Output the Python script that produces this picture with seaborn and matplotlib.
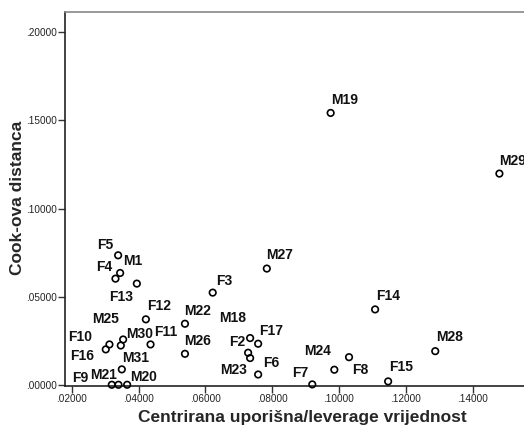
import numpy as np
import pandas as pd
import matplotlib
matplotlib.use('Agg')
import matplotlib.pyplot as plt
from matplotlib.ticker import FuncFormatter, FixedLocator
import seaborn as sns

# case labels, leverage (x) and Cook's distance (y)
labels = ['F5', 'M1', 'F4', 'F13', 'F12', 'M30', 'M25', 'F10', 'F16', 'F11',
          'M31', 'F9', 'M21', 'M20', 'M27', 'F3', 'M22', 'M26', 'F2', 'F17',
          'M18', 'M23', 'F6', 'F14', 'M28', 'M24', 'F8', 'F7', 'F15', 'M19', 'M29']
leverage = [0.0339, 0.0345, 0.0331, 0.0395, 0.0422, 0.0354, 0.0347, 0.0313, 0.0302, 0.0436,
            0.0350, 0.0320, 0.0340, 0.0366, 0.0784, 0.0622, 0.0539, 0.0539, 0.0734, 0.0758,
            0.0728, 0.0734, 0.0758, 0.1108, 0.1288, 0.0986, 0.1030, 0.0920, 0.1147, 0.0975, 0.1480]
cooks = [0.0736, 0.0636, 0.0604, 0.0576, 0.0374, 0.0260, 0.0226, 0.0232, 0.0204, 0.0232,
         0.0091, 0.0004, 0.0004, 0.0004, 0.0661, 0.0525, 0.0349, 0.0179, 0.0268, 0.0236,
         0.0185, 0.0155, 0.0062, 0.0430, 0.0194, 0.0089, 0.0160, 0.0006, 0.0023, 0.1541, 0.1198]

y_ticks = [0.0, 0.05, 0.10, 0.15, 0.20]
x_ticks = [0.02, 0.04, 0.06, 0.08, 0.10, 0.12, 0.14]

# label placement (pixel offsets of label centre from the point)
label_offsets = {
    'F5': (-13, 10), 'M1': (13, 12), 'F4': (-11, 12), 'F13': (-16, -13),
    'F12': (13, 13), 'M30': (16, 5), 'M25': (-15, 26), 'F10': (-29, 7),
    'F16': (-24, -7), 'F11': (15, 12), 'M31': (14, 11), 'F9': (-32, 7),
    'M21': (-15, 10), 'M20': (16, 8), 'M27': (13, 14), 'F3': (12, 12),
    'M22': (13, 13), 'M26': (13, 13), 'F2': (-13, -4), 'F17': (13, 13),
    'M18': (-15, 35), 'M23': (-17, -12), 'F6': (13, 12), 'F14': (13, 13),
    'M28': (14, 14), 'M24': (-17, 19), 'F8': (11, -13), 'F7': (-12, 11),
    'F15': (13, 14), 'M19': (14, 13), 'M29': (13, 13),
}

df = pd.DataFrame({'case': labels, 'leverage': leverage, 'cooks': cooks})

sns.set_style('white')
plt.rcParams['font.family'] = ['Liberation Sans', 'DejaVu Sans']

fig = plt.figure(figsize=(5.24, 4.30), dpi=100)
W, H = 524, 430
ax = fig.add_axes([65 / W, (H - 386) / H, 474.5 / W, (386 - 12.3) / H])

sns.scatterplot(data=df, x='leverage', y='cooks', ax=ax, marker='o', s=22,
                facecolor='none', edgecolor='black', linewidth=1.2, legend=False,
                clip_on=False, zorder=3)

for name, x, y in zip(labels, leverage, cooks):
    dx, dy = label_offsets[name]
    ax.annotate(name, (x, y), xytext=(dx, dy), textcoords='offset pixels',
                ha='center', va='center', fontsize=10, fontweight='bold',
                color='#111111')

ax.set_xlim(0.018, 0.16)
ax.set_ylim(-0.0003, 0.211)
ax.xaxis.set_major_locator(FixedLocator(x_ticks))
ax.yaxis.set_major_locator(FixedLocator(y_ticks))
fmt = FuncFormatter(lambda v, p: f'{v:.5f}'.lstrip('0'))
ax.xaxis.set_major_formatter(fmt)
ax.yaxis.set_major_formatter(fmt)
ax.tick_params(axis='both', which='major', direction='out', length=5, width=1,
               color='#333333', labelsize=7.2, labelcolor='#222222', pad=1,
               bottom=True, left=True)

for side in ['left', 'bottom']:
    ax.spines[side].set_color('#222222')
    ax.spines[side].set_linewidth(1.2)
for side in ['top', 'right']:
    ax.spines[side].set_color('#888888')
    ax.spines[side].set_linewidth(1.2)

ax.set_xlabel('Centrirana uporišna/leverage vrijednost', fontsize=12.5,
              fontweight='bold')
ax.set_ylabel('Cook-ova distanca', fontsize=12.5, fontweight='bold')
ax.xaxis.set_label_coords(0.5, -0.064)
ax.yaxis.set_label_coords(-0.084, 0.504)

fig.savefig('out.png', dpi=100)
